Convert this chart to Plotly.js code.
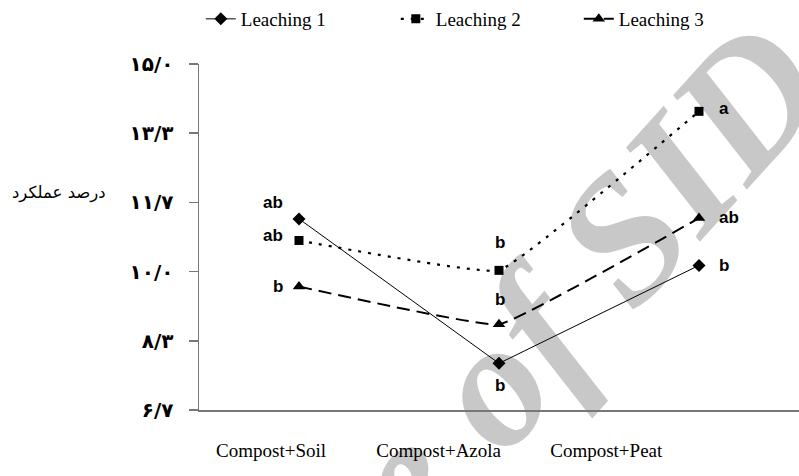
<!DOCTYPE html>
<html>
<head>
<meta charset="utf-8">
<script src="https://cdn.plot.ly/plotly-3.0.1.min.js"></script>
<style>html,body{margin:0;padding:0;background:#fff;}#chart{width:799px;height:476px;}</style>
</head>
<body>
<div id="chart"></div>
<script>
// ---- data ----
const categories = ["Compost+Soil", "Compost+Azola", "Compost+Peat"];
const seriesNames = ["Leaching 1", "Leaching 2", "Leaching 3"];
const leaching1 = [11.27, 7.79, 10.15];
const leaching2 = [10.75, 10.03, 13.86];
const leaching3 = [9.64, 8.73, 11.29];
const letters1 = ["ab", "b", "b"];
const letters2 = ["ab", "b", "a"];
const letters3 = ["b", "b", "ab"];
const yTickVals = [6.667, 8.333, 10.0, 11.667, 13.333, 15.0];
const yTickText = ["۶/۷", "۸/۳", "۱۰/۰", "۱۱/۷", "۱۳/۳", "۱۵/۰"];
const yTitle = "درصد عملکرد";
const watermark = "Archive of SID";

// ---- styles ----
const styles = [
  {symbol: "diamond", size: 10, dash: "solid", width: 1, shape: "linear", legend: "legend"},
  {symbol: "square", size: 9, dash: "3px,7px", width: 2.2, shape: "spline", legend: "legend2"},
  {symbol: "triangle-up", size: 11, dash: "13px,7px", width: 2, shape: "spline", legend: "legend3"}
];
const allValues = [leaching1, leaching2, leaching3];
const allLetters = [letters1, letters2, letters3];
// label offsets per series per point: [xanchor, xshift, yshift]
const labelOffsets = [
  [["right", -14, 16], ["center", 1, -22], ["left", 18, 0]],
  [["right", -14, 5], ["center", 1, 28], ["left", 18, 3]],
  [["right", -14, 0], ["center", 1, 25], ["left", 18, 1]]
];

const traces = allValues.map((vals, i) => ({
  x: categories, y: vals, name: seriesNames[i], type: "scatter", mode: "lines+markers",
  line: {color: "#000", width: styles[i].width, dash: styles[i].dash, shape: styles[i].shape, smoothing: 0.25},
  marker: {symbol: styles[i].symbol, size: styles[i].size, color: "#000"},
  legend: styles[i].legend, hoverinfo: "skip"
}));
// helper trace carrying the category labels on the offset label axis
traces.push({x: [0, 1, 2], y: [null, null, null], xaxis: "x2", type: "scatter", mode: "markers",
  showlegend: false, hoverinfo: "skip"});

const annotations = [];
allValues.forEach((vals, i) => {
  vals.forEach((v, j) => {
    const o = labelOffsets[i][j];
    annotations.push({x: categories[j], y: v, xref: "x", yref: "y", text: allLetters[i][j],
      showarrow: false, xanchor: o[0], yanchor: "middle", xshift: o[1], yshift: o[2],
      font: {family: "Liberation Sans, Arial", size: 17, color: "#000", weight: "bold"}});
  });
});
annotations.push({x: (10 - 199) / 600, y: (410 - 192) / 347, xref: "paper", yref: "paper",
  text: yTitle, showarrow: false,
  font: {family: "DejaVu Sans", size: 16.5, color: "#000"}});

const legendFont = {family: "Liberation Serif, Times New Roman", size: 19, color: "#000"};
const legendBase = {orientation: "h", xanchor: "left", yanchor: "top", y: 1.185, font: legendFont,
  bgcolor: "rgba(0,0,0,0)", borderwidth: 0};

const layout = {
  width: 799, height: 476,
  margin: {l: 199, r: 0, t: 63, b: 66},
  paper_bgcolor: "#fff", plot_bgcolor: "rgba(0,0,0,0)",
  showlegend: true,
  legend: Object.assign({}, legendBase, {x: 0.003}),
  legend2: Object.assign({}, legendBase, {x: 0.328}),
  legend3: Object.assign({}, legendBase, {x: 0.633}),
  xaxis: {type: "category", range: [-0.5, 2.5], showticklabels: false, ticks: "", showgrid: false,
    zeroline: false, showline: true, linecolor: "#777", linewidth: 1.5, fixedrange: true},
  xaxis2: {type: "linear", overlaying: "x", anchor: "y", side: "bottom", range: [-0.43, 3.15],
    tickvals: [0, 1, 2], ticktext: categories, ticks: "", showgrid: false, zeroline: false,
    showline: false, ticklabelstandoff: 27,
    tickfont: {family: "Liberation Serif, Times New Roman", size: 19, color: "#000"}},
  yaxis: {range: [6.667, 15.0], tickvals: yTickVals, ticktext: yTickText, ticks: "outside",
    ticklen: 9, tickcolor: "#777", tickwidth: 1.5, showgrid: false, zeroline: false, showline: true,
    linecolor: "#777", linewidth: 1.5, ticklabelstandoff: 11,
    tickfont: {family: "DejaVu Sans", size: 20, color: "#000", weight: "bold"}},
  annotations: annotations,
  shapes: [{type: "rect", xref: "paper", yref: "paper", x0: 0.333, x1: 0.338, y0: -0.13, y1: -0.125,
    line: {width: 0}, fillcolor: "rgba(0,0,0,0)", layer: "below",
    label: {text: watermark, textangle: -48, textposition: "middle center",
      font: {family: "Liberation Serif", size: 180, color: "#c8c8c8", weight: "bold", style: "italic"}}}]
};

Plotly.newPlot("chart", traces, layout, {displayModeBar: false, staticPlot: true});
</script>
</body>
</html>
